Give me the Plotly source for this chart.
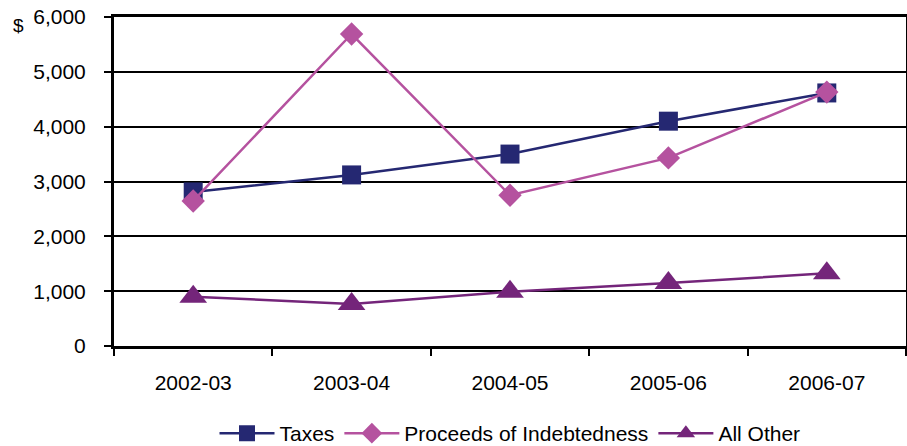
import plotly.graph_objects as go

categories = ["2002-03", "2003-04", "2004-05", "2005-06", "2006-07"]
taxes = [2810, 3120, 3500, 4100, 4615]
proceeds = [2645, 5690, 2750, 3430, 4630]
all_other = [900, 765, 990, 1150, 1325]
y_ticks = [0, 1000, 2000, 3000, 4000, 5000, 6000]
y_labels = ["0", "1,000", "2,000", "3,000", "4,000", "5,000", "6,000"]

FONT = "Liberation Sans, Arial, sans-serif"

fig = go.Figure()
fig.add_trace(go.Scatter(
    x=categories, y=taxes, name="Taxes", mode="lines+markers",
    line=dict(color="#252872", width=2.5),
    marker=dict(symbol="square", size=19, color="#252872")))
fig.add_trace(go.Scatter(
    x=categories, y=proceeds, name="Proceeds of Indebtedness", mode="lines+markers",
    line=dict(color="#B5529F", width=2.5),
    marker=dict(symbol="diamond", size=18, color="#B5529F")))
fig.add_trace(go.Scatter(
    x=categories, y=all_other, name="All Other", mode="lines+markers",
    line=dict(color="#74257A", width=2.5),
    marker=dict(symbol="triangle-up", size=24, color="#74257A")))

fig.update_layout(
    width=907, height=446,
    margin=dict(l=114, r=1, t=17, b=100, autoexpand=False),
    paper_bgcolor="white", plot_bgcolor="white",
    font=dict(family=FONT, size=21, color="black"),
    showlegend=True,
    legend=dict(orientation="h", x=0.5, xanchor="center", xref="paper",
                y=0.028, yanchor="middle", yref="container",
                font=dict(size=21), itemwidth=55, tracegroupgap=0),
    annotations=[dict(text="$", x=-0.121, y=0.975, xref="paper", yref="paper",
                      xanchor="center", yanchor="middle",
                      showarrow=False, font=dict(size=19))],
)

fig.update_xaxes(
    type="category", range=[-0.5, 4.5], tickson="boundaries",
    ticks="outside", ticklen=7, tickwidth=2, tickcolor="black",
    showline=True, linewidth=3, linecolor="black", mirror=True,
    showgrid=False, tickfont=dict(size=21), ticklabelstandoff=16)
fig.update_yaxes(
    range=[0, 6000], tickvals=y_ticks, ticktext=y_labels,
    ticks="outside", ticklen=7, tickwidth=2, tickcolor="black",
    showline=True, linewidth=3, linecolor="black", mirror=True,
    showgrid=True, gridcolor="black", gridwidth=2,
    tickfont=dict(size=21), zeroline=False, ticklabelstandoff=14)

fig.write_html("out.html")
